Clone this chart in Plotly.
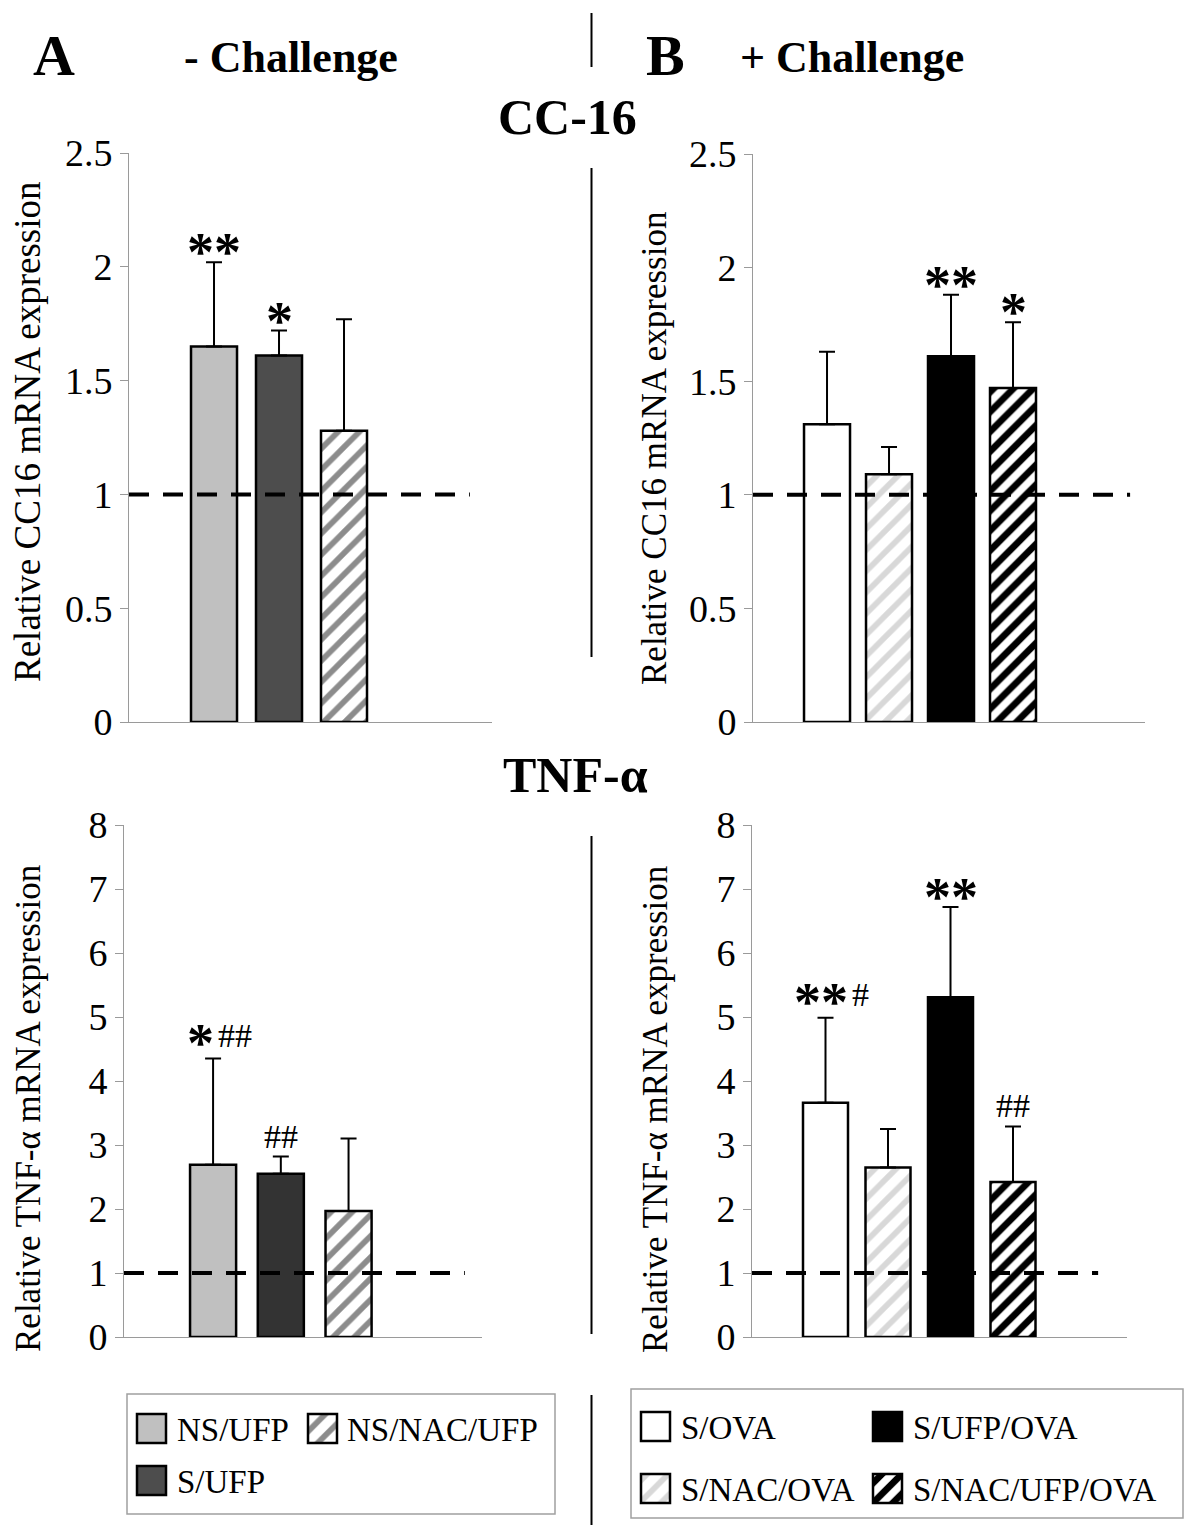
import plotly.graph_objects as go

# ---------------- data ----------------
groups_A = ["NS/UFP", "S/UFP", "NS/NAC/UFP"]
groups_B = ["S/OVA", "S/NAC/OVA", "S/UFP/OVA", "S/NAC/UFP/OVA"]

cc16_A = [1.65, 1.61, 1.28]
cc16_A_err = [0.37, 0.11, 0.49]
cc16_B = [1.31, 1.09, 1.61, 1.47]
cc16_B_err = [0.32, 0.12, 0.27, 0.29]

tnf_A = [2.69, 2.55, 1.97]
tnf_A_err = [1.66, 0.27, 1.13]
tnf_B = [3.66, 2.65, 5.31, 2.42]
tnf_B_err = [1.33, 0.60, 1.41, 0.87]

sig_cc16_A = ["**", "*", ""]
sig_cc16_B = ["", "", "**", "*"]
sig_tnf_A = ["*##", "##", ""]
sig_tnf_B = ["**#", "", "**", "##"]

baseline = 1.0
cc16_ticks = [0, 0.5, 1, 1.5, 2, 2.5]
tnf_ticks = [0, 1, 2, 3, 4, 5, 6, 7, 8]

# ---------------- styles ----------------
W, H = 1200, 1534
SERIF = "Liberation Serif, Times New Roman, serif"
STAR_SIZE = 54
HASH_SIZE = 34


def px(x):
    return x / W


def py(y):
    return 1 - y / H


def hatch(fg, size, solidity):
    return dict(shape="/", fgcolor=fg, bgcolor="white", fgopacity=1, size=size,
                solidity=solidity, fillmode="replace")


style = {
    "NS/UFP": dict(color="#c0c0c0"),
    "S/UFP": dict(color="#4d4d4d"),
    "S/UFP_b": dict(color="#333333"),
    "NS/NAC/UFP": dict(color="white", pattern=hatch("#8c8c8c", 15, 0.38)),
    "S/OVA": dict(color="white"),
    "S/NAC/OVA": dict(color="white", pattern=hatch("#d8d8d8", 15, 0.38)),
    "S/UFP/OVA": dict(color="black"),
    "S/NAC/UFP/OVA": dict(color="white", pattern=hatch("black", 14, 0.48)),
}

panels = [
    dict(ax="x", ay="y", xd=(129, 492), yd=(153, 722), xr=(-0.308, 5.277), bw=0.708, dash_end=0.939,
         groups=groups_A, vals=cc16_A, errs=cc16_A_err, sig=sig_cc16_A, yr=(0, 2.5), ticks=cc16_ticks, dark="S/UFP"),
    dict(ax="x2", ay="y2", xd=(753, 1145), yd=(154, 722), xr=(-0.194, 6.129), bw=0.742, dash_end=0.962,
         groups=groups_B, vals=cc16_B, errs=cc16_B_err, sig=sig_cc16_B, yr=(0, 2.5), ticks=cc16_ticks, dark="S/UFP"),
    dict(ax="x3", ay="y3", xd=(124, 482), yd=(825, 1337), xr=(-0.315, 4.97), bw=0.68, dash_end=0.952,
         groups=groups_A, vals=tnf_A, errs=tnf_A_err, sig=sig_tnf_A, yr=(0, 8), ticks=tnf_ticks, dark="S/UFP_b"),
    dict(ax="x4", ay="y4", xd=(752, 1127), yd=(825, 1337), xr=(-0.176, 5.824), bw=0.72, dash_end=0.923,
         groups=groups_B, vals=tnf_B, errs=tnf_B_err, sig=sig_tnf_B, yr=(0, 8), ticks=tnf_ticks, dark="S/UFP_b"),
]

fig = go.Figure()
annotations = []
shapes = []

AXIS_GRAY = "#9a9a9a"
layout_axes = {}

for i, p in enumerate(panels):
    for j, (g, v, e) in enumerate(zip(p["groups"], p["vals"], p["errs"])):
        key = p["dark"] if g == "S/UFP" else g
        st = style[key]
        marker = dict(color=st["color"], line=dict(color="black", width=2.5))
        if "pattern" in st:
            marker["pattern"] = st["pattern"]
        fig.add_trace(go.Bar(
            x=[j + 1], y=[v], width=p["bw"], marker=marker, name=g, showlegend=False,
            xaxis=p["ax"], yaxis=p["ay"],
            error_y=dict(type="data", symmetric=False, array=[e], arrayminus=[0],
                         color="black", thickness=2, width=8),
        ))
        s = p["sig"][j]
        if s:
            stars = s.rstrip("#")
            hashes = s[len(stars):]
            both = bool(stars and hashes)
            star_w = 0.46 * STAR_SIZE * len(stars)
            hash_w = 0.5 * HASH_SIZE * len(hashes)
            total = star_w + hash_w
            split = 8 - total / 2 + star_w if both else 0
            if stars:
                annotations.append(dict(
                    x=j + 1, y=v + e, xref=p["ax"], yref=p["ay"], text="<b>" + stars + "</b>", showarrow=False,
                    xanchor="right" if both else "center", xshift=split,
                    yanchor="bottom", yshift=-16 if both else -22,
                    font=dict(family=SERIF, size=STAR_SIZE, color="black"),
                ))
            if hashes:
                annotations.append(dict(
                    x=j + 1, y=v + e, xref=p["ax"], yref=p["ay"], text=hashes, showarrow=False,
                    xanchor="left" if both else "center", xshift=split,
                    yanchor="bottom", yshift=3 if both else 0,
                    font=dict(family=SERIF, size=HASH_SIZE, color="black"),
                ))
    shapes.append(dict(type="line", xref=p["ax"] + " domain", yref=p["ay"], x0=0, x1=p["dash_end"],
                       y0=baseline, y1=baseline, line=dict(color="black", width=4, dash="20px,14px"), layer="above"))
    xa_name = "xaxis" + (p["ax"][1:] if len(p["ax"]) > 1 else "")
    ya_name = "yaxis" + (p["ay"][1:] if len(p["ay"]) > 1 else "")
    layout_axes[xa_name] = dict(domain=[px(p["xd"][0]), px(p["xd"][1])], range=list(p["xr"]),
                                anchor=p["ay"], showline=True, linecolor=AXIS_GRAY, linewidth=1,
                                showticklabels=False, ticks="", showgrid=False, zeroline=False,
                                fixedrange=True, automargin=False)
    layout_axes[ya_name] = dict(domain=[py(p["yd"][1]), py(p["yd"][0])], range=list(p["yr"]),
                                anchor=p["ax"], showline=True, linecolor=AXIS_GRAY, linewidth=1,
                                ticks="outside", ticklen=8, tickcolor=AXIS_GRAY, tickvals=p["ticks"],
                                ticklabelstandoff=0,
                                tickfont=dict(family=SERIF, size=38, color="black"),
                                showgrid=False, zeroline=False, fixedrange=True, automargin=False)

# ---------------- legend (manual) on an overlay pixel axis ----------------
legend_items = [
    ("NS/UFP", "NS/UFP", 137, 1414, 175),
    ("NS/NAC/UFP", "NS/NAC/UFP", 308, 1414, 345),
    ("S/UFP", "S/UFP", 137, 1466, 175),
    ("S/OVA", "S/OVA", 641, 1412, 679),
    ("S/UFP/OVA", "S/UFP/OVA", 873, 1412, 911),
    ("S/NAC/OVA", "S/NAC/OVA", 641, 1474, 679),
    ("S/NAC/UFP/OVA", "S/NAC/UFP/OVA", 873, 1474, 911),
]
SW = 29
for lab, key, lx, ty, tx in legend_items:
    st = style[key]
    marker = dict(color=st["color"], line=dict(color="black", width=2.5))
    if "pattern" in st:
        marker["pattern"] = dict(st["pattern"])
    fig.add_trace(go.Bar(x=[lx + SW / 2], y=[SW], base=[ty], width=SW, marker=marker,
                         showlegend=False, xaxis="x5", yaxis="y5", hoverinfo="skip"))
    annotations.append(dict(x=tx, y=ty + SW / 2 + 1, xref="x5", yref="y5", text=lab, showarrow=False,
                            xanchor="left", yanchor="middle", font=dict(family=SERIF, size=33, color="black")))

layout_axes["xaxis5"] = dict(domain=[0, 1], range=[0, W], visible=False, fixedrange=True, anchor="y5", automargin=False)
layout_axes["yaxis5"] = dict(domain=[0, 1], range=[H, 0], visible=False, fixedrange=True, anchor="x5", automargin=False)

shapes.append(dict(type="rect", xref="paper", yref="paper", x0=px(127), x1=px(555), y0=py(1394), y1=py(1514),
                   line=dict(color="#a0a0a0", width=1.5)))
shapes.append(dict(type="rect", xref="paper", yref="paper", x0=px(631), x1=px(1183), y0=py(1389), y1=py(1518),
                   line=dict(color="#a0a0a0", width=1.5)))

for y0, y1 in [(13, 67), (168, 657), (836, 1334), (1395, 1525)]:
    shapes.append(dict(type="line", xref="paper", yref="paper", x0=px(591.5), x1=px(591.5),
                       y0=py(y0), y1=py(y1), line=dict(color="black", width=2)))


def header(text, x, y, size, anchor="center"):
    annotations.append(dict(x=px(x), y=py(y), xref="paper", yref="paper", text="<b>" + text + "</b>",
                            showarrow=False, xanchor=anchor, yanchor="middle",
                            font=dict(family=SERIF, size=size, color="black")))


header("A", 54, 55, 58)
header("- Challenge", 182, 57, 44, "left")
header("B", 665, 55, 58)
header("+ Challenge", 738, 57, 44, "left")
header("CC-16", 567, 117, 50)
header("TNF-α", 575, 775, 50)

for txt, x, y, size in [
    ("Relative CC16 mRNA expression", 28, 432, 37),
    ("Relative CC16 mRNA expression", 654, 449, 35),
    ("Relative TNF-α mRNA expression", 28, 1109, 35),
    ("Relative TNF-α mRNA expression", 655, 1109, 35),
]:
    annotations.append(dict(x=px(x), y=py(y), xref="paper", yref="paper", text=txt, textangle=-90,
                            showarrow=False, xanchor="center", yanchor="middle",
                            font=dict(family=SERIF, size=size, color="black")))

fig.update_layout(
    template="none",
    width=W, height=H, autosize=False,
    margin=dict(l=0, r=0, t=0, b=0, pad=0, autoexpand=False),
    paper_bgcolor="white", plot_bgcolor="rgba(0,0,0,0)",
    showlegend=False, barmode="overlay",
    annotations=annotations, shapes=shapes,
    **layout_axes,
)

fig.write_html("out.html", config={"displayModeBar": False},
               post_script="document.body.style.margin='0px';")
